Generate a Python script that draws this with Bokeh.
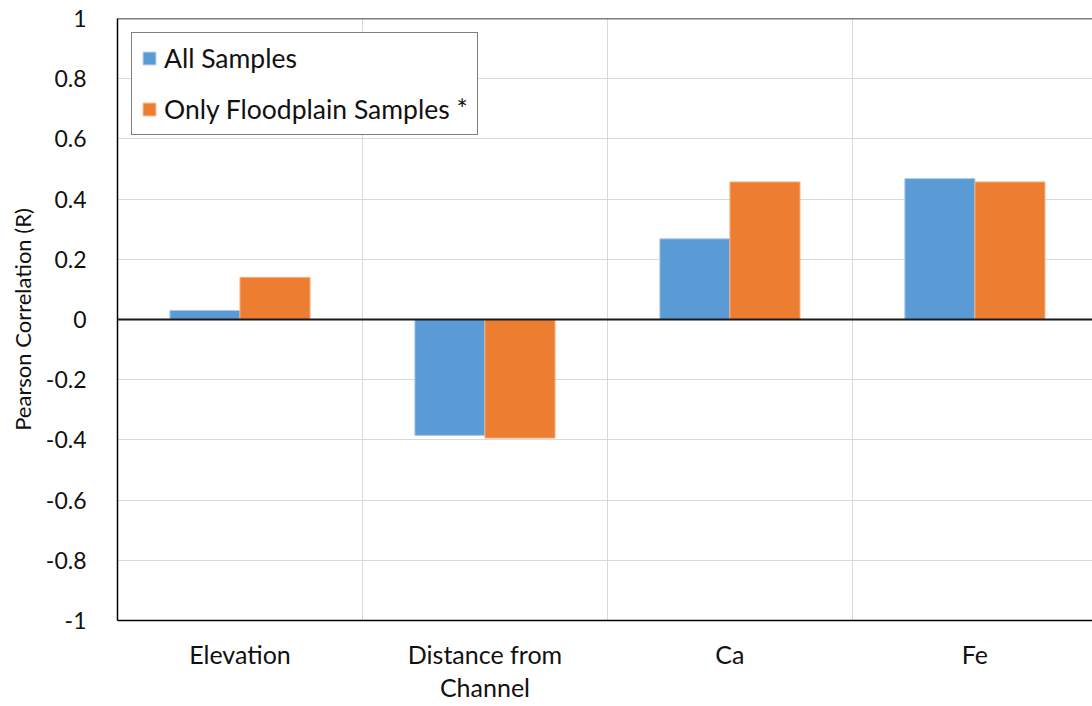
from bokeh.plotting import figure
from bokeh.models import (FixedTicker, Span, Legend, LegendItem, ColumnDataSource, Range1d)
from bokeh.embed import file_html
from bokeh.resources import INLINE

categories = ["Elevation", "Distance from\nChannel", "Ca", "Fe"]
all_samples = [0.03, -0.385, 0.268, 0.468]
floodplain = [0.14, -0.394, 0.457, 0.457]
y_ticks = [-1, -0.8, -0.6, -0.4, -0.2, 0, 0.2, 0.4, 0.6, 0.8, 1]
y_labels = ["-1", "-0.8", "-0.6", "-0.4", "-0.2", "0", "0.2", "0.4", "0.6", "0.8", "1"]

FONT = "Lato"
BLUE = "#5B9BD5"
ORANGE = "#ED7D31"

centers = [i + 0.5 for i in range(len(categories))]
bar_w = 0.286
src = ColumnDataSource(dict(
    xa=[c - bar_w / 2 for c in centers],
    xf=[c + bar_w / 2 for c in centers],
    a=all_samples, f=floodplain))

p = figure(width=1092, height=706, output_backend="svg", toolbar_location=None,
           x_range=Range1d(0, 3.98), y_range=Range1d(-1, 1),
           min_border_left=117, min_border_right=0, min_border_top=18, min_border_bottom=86)
p.outline_line_color = None
p.background_fill_color = "white"
p.border_fill_color = "white"

# grids
p.ygrid.ticker = FixedTicker(ticks=y_ticks)
p.ygrid.grid_line_color = "#d9d9d9"
p.ygrid.grid_line_width = 1
p.xgrid.ticker = FixedTicker(ticks=[1, 2, 3, 4])
p.xgrid.grid_line_color = "#d9d9d9"
p.xgrid.grid_line_width = 1

r1 = p.vbar(x="xa", top="a", bottom=0, width=bar_w, source=src,
            fill_color=BLUE, line_color="#a9c8ea", line_width=1)
r2 = p.vbar(x="xf", top="f", bottom=0, width=bar_w, source=src,
            fill_color=ORANGE, line_color="#f4b183", line_width=1)

# zero line and top frame line
p.add_layout(Span(location=0, dimension="width", line_color="#1a1a1a", line_width=2))
p.add_layout(Span(location=p.y_range.end, dimension="width", line_color="black", line_width=1.5))

# y axis
ya = p.yaxis[0]
ya.ticker = FixedTicker(ticks=y_ticks)
ya.major_label_overrides = {t: l for t, l in zip(y_ticks, y_labels)}
ya.axis_line_color = "black"
ya.axis_line_width = 1.5
ya.major_tick_line_color = None
ya.minor_tick_line_color = None
ya.major_label_standoff = 25
ya.major_label_text_font = FONT
ya.major_label_text_font_size = "23px"
ya.major_label_text_color = "#111111"
ya.axis_label = "Pearson Correlation (R)"
ya.axis_label_text_font = FONT
ya.axis_label_text_font_size = "22px"
ya.axis_label_text_font_style = "normal"
ya.axis_label_text_color = "#111111"
ya.axis_label_standoff = 7

# x axis
xa = p.xaxis[0]
xa.ticker = FixedTicker(ticks=centers)
xa.major_label_overrides = {c: n for c, n in zip(centers, categories)}
xa.axis_line_color = "black"
xa.axis_line_width = 1.5
xa.major_tick_line_color = None
xa.minor_tick_line_color = None
xa.major_label_standoff = 12
xa.major_label_text_font = FONT
xa.major_label_text_font_size = "25px"
xa.major_label_text_line_height = 1.1
xa.major_label_text_color = "#111111"

legend = Legend(items=[LegendItem(label="All Samples", renderers=[r1]),
                       LegendItem(label="Only Floodplain Samples *", renderers=[r2])],
                location="top_left")
legend.label_text_font = FONT
legend.label_text_font_size = "26.5px"
legend.label_text_color = "#111111"
legend.glyph_width = 16
legend.glyph_height = 16
legend.label_standoff = 7
legend.spacing = 19
legend.padding = 9
legend.margin = 14
legend.border_line_color = "black"
legend.border_line_width = 1
legend.background_fill_alpha = 1
p.add_layout(legend)

open("out.html", "w").write(file_html(p, INLINE))
